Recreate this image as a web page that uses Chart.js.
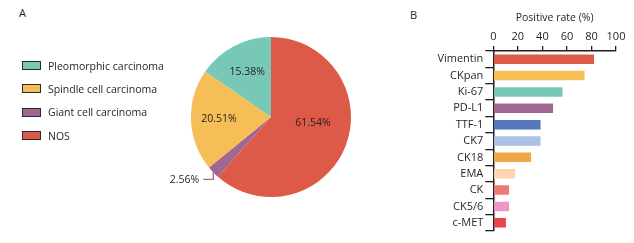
<!DOCTYPE html>
<html>
<head>
<meta charset="utf-8">
<script src="https://cdn.jsdelivr.net/npm/chart.js@4.4.1/dist/chart.umd.min.js"></script>
<style>
body { margin: 0; background: #fff; width: 634px; height: 243px; overflow: hidden; position: relative; font-family: "Open Sans", sans-serif; color: #231f20; }
.panel-tag { position: absolute; font-size: 11px; }
#pieWrap { position: absolute; left: 0; top: 0; width: 400px; height: 243px; }
#barWrap { position: absolute; left: 400px; top: 0; width: 234px; height: 243px; }
.legend { position: absolute; left: 22px; top: 54px; font-size: 10.5px; }
.legend div { height: 23.3px; display: flex; align-items: center; }
.legend span.box { width: 17px; height: 7px; border: 1.3px solid #2b2b2b; margin-right: 7px; }
</style>
</head>
<body>
<div class="panel-tag" style="left:19px;top:5px">A</div>
<div class="panel-tag" style="left:410px;top:7px">B</div>
<div id="pieWrap"><canvas id="pie" width="400" height="243"></canvas></div>
<div class="legend" id="legend"></div>
<div id="barWrap"><canvas id="bar" width="234" height="243"></canvas></div>
<script>
// pie: clockwise from 12 o'clock
const subtypes = ['NOS', 'Giant cell carcinoma', 'Spindle cell carcinoma', 'Pleomorphic carcinoma'];
const subtypeShare = [61.54, 2.56, 20.51, 15.38];
const subtypeColors = ['#de5a48', '#a06890', '#f6be56', '#78c8b7'];

// bar
const markers = ['Vimentin', 'CKpan', 'Ki-67', 'PD-L1', 'TTF-1', 'CK7', 'CK18', 'EMA', 'CK', 'CK5/6', 'c-MET'];
const positiveRate = [82.1, 74.4, 56.4, 48.7, 38.5, 38.5, 30.8, 17.9, 12.8, 12.8, 10.3];
const markerColors = ['#de5a48', '#f6be56', '#78c8b7', '#a06890', '#5577bd', '#abc0e4', '#f3a549', '#fcd5ae', '#ef7878', '#ee97c6', '#e8474a'];
const xTicks = [0, 20, 40, 60, 80, 100];

Chart.defaults.font.family = '"Open Sans", sans-serif';
Chart.defaults.color = '#231f20';

// legend (Pleomorphic first, NOS last)
const lg = document.getElementById('legend');
subtypes.slice().reverse().forEach((name, i) => {
    const c = subtypeColors[subtypes.length - 1 - i];
    lg.innerHTML += `<div><span class="box" style="background:${c}"></span>${name}</div>`;
});

// where to put each slice label: [radius fraction, angle offset from mid (deg)]
const labelPlace = [[0.53, -12], [null, 0], [0.65, 0], [0.64, 0]];

const pieLabels = {
    id: 'pieLabels',
    afterDatasetsDraw(chart) {
        const ctx = chart.ctx;
        const meta = chart.getDatasetMeta(0);
        ctx.save();
        ctx.font = '10.5px "Open Sans", sans-serif';
        ctx.fillStyle = '#231f20';
        ctx.textAlign = 'center';
        ctx.textBaseline = 'middle';
        meta.data.forEach((arc, i) => {
            const p = arc.getProps(['x', 'y', 'startAngle', 'endAngle', 'outerRadius']);
            const txt = subtypeShare[i].toFixed(2) + '%';
            if (labelPlace[i][0] === null) {
                // small slice: leader line out to the left
                const a = (p.startAngle + p.endAngle) / 2;
                const sx = p.x + Math.cos(a) * p.outerRadius;
                const sy = p.y + Math.sin(a) * p.outerRadius;
                ctx.strokeStyle = subtypeColors[i];
                ctx.lineWidth = 1.3;
                ctx.beginPath();
                ctx.moveTo(sx, sy);
                ctx.lineTo(sx, sy + 7);
                ctx.lineTo(sx - 10, sy + 7);
                ctx.stroke();
                ctx.textAlign = 'right';
                ctx.fillText(txt, sx - 14, sy + 8);
                ctx.textAlign = 'center';
                return;
            }
            const a = (p.startAngle + p.endAngle) / 2 + labelPlace[i][1] * Math.PI / 180;
            const r = p.outerRadius * labelPlace[i][0];
            ctx.fillText(txt, p.x + Math.cos(a) * r, p.y + Math.sin(a) * r);
        });
        ctx.restore();
    }
};

new Chart(document.getElementById('pie'), {
    type: 'pie',
    data: {
        labels: subtypes,
        datasets: [{
            data: subtypeShare,
            backgroundColor: subtypeColors,
            borderWidth: 0
        }]
    },
    options: {
        responsive: false,
        maintainAspectRatio: false,
        animation: false,
        layout: { padding: { left: 191, right: 49, top: 37, bottom: 46 } },
        plugins: { legend: { display: false }, tooltip: { enabled: false } }
    },
    plugins: [pieLabels]
});

new Chart(document.getElementById('bar'), {
    type: 'bar',
    data: {
        labels: markers,
        datasets: [{
            data: positiveRate,
            backgroundColor: markerColors,
            borderWidth: 0,
            barPercentage: 0.58,
            categoryPercentage: 1
        }]
    },
    options: {
        indexAxis: 'y',
        responsive: false,
        maintainAspectRatio: false,
        animation: false,
        layout: { padding: { left: 0, right: 18, top: 12, bottom: 12 } },
        plugins: { legend: { display: false }, tooltip: { enabled: false } },
        scales: {
            x: {
                position: 'top',
                min: 0,
                max: 100,
                afterBuildTicks: (s) => { s.ticks = xTicks.map(v => ({ value: v })); },
                afterFit: (s) => { s.height = 39; },
                ticks: { font: { size: 11 }, padding: 3, maxRotation: 0 },
                grid: { drawOnChartArea: false, drawTicks: true, tickLength: 5, color: '#231f20', lineWidth: 1.3 },
                border: { display: true, color: '#231f20', width: 1.5 },
                title: { display: true, text: 'Positive rate (%)', font: { size: 10.5 }, padding: { top: 0, bottom: 2 } }
            },
            y: {
                afterFit: (s) => { s.width = 93.3; },
                ticks: { font: { size: 11 }, padding: 2, autoSkip: false },
                grid: { drawOnChartArea: false, drawTicks: true, tickLength: 8, color: '#231f20', lineWidth: 1.3 },
                border: { display: true, color: '#231f20', width: 1.5 }
            }
        }
    }
});
</script>
</body>
</html>
